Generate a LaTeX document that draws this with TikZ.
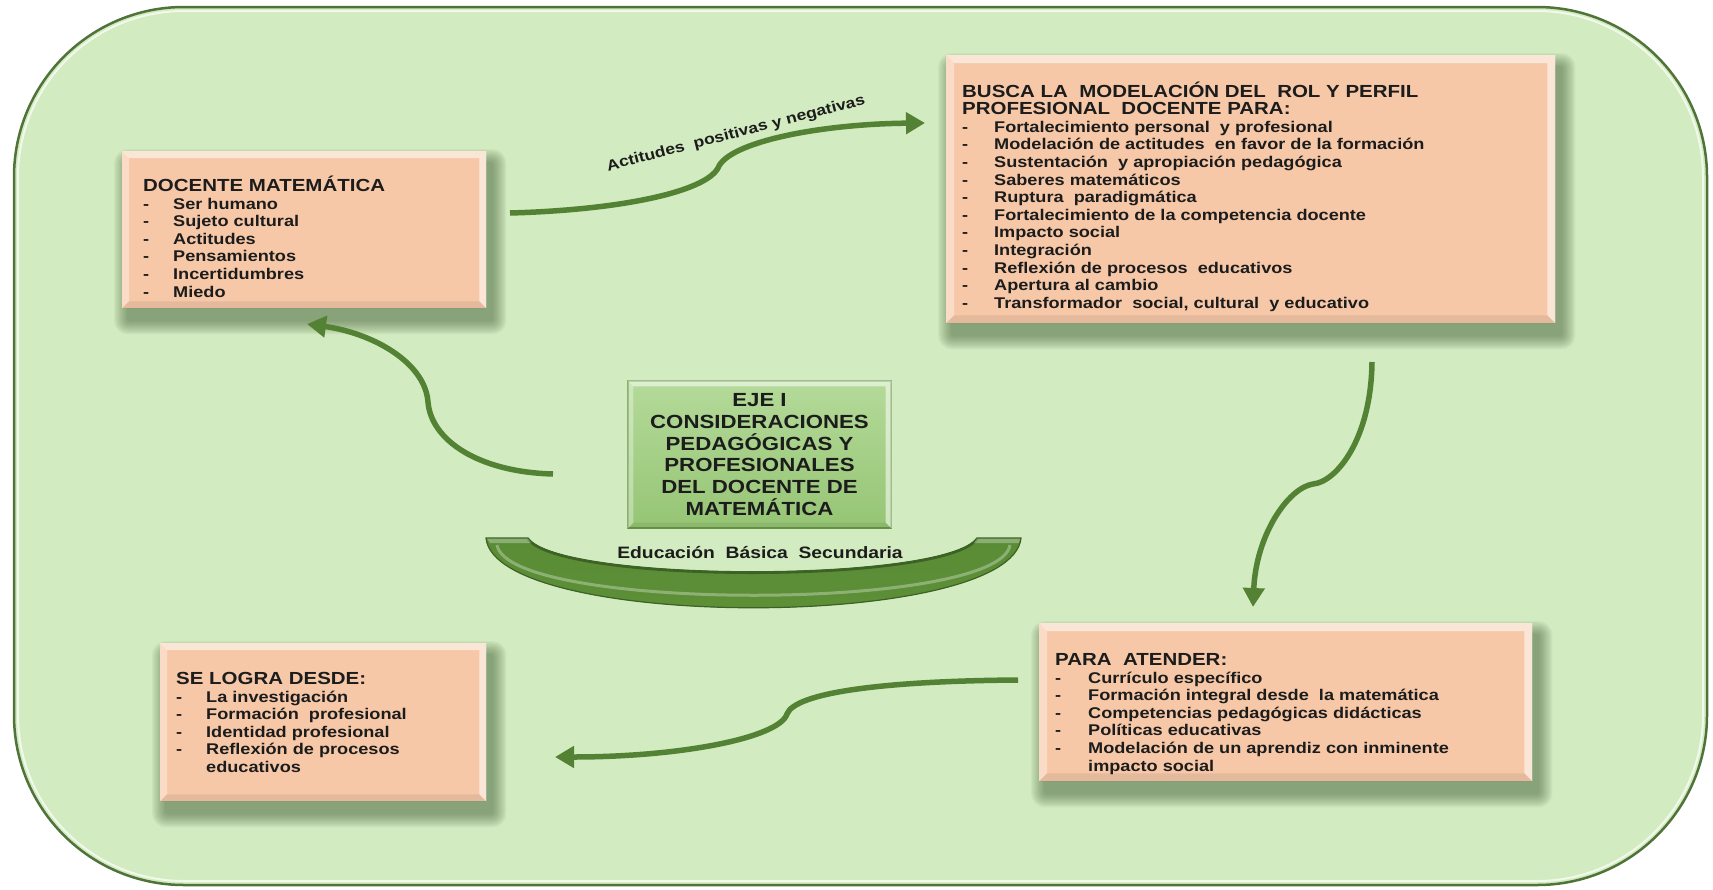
\documentclass[tikz,border=0pt]{standalone}
\usepackage{fontspec}
\setmainfont{Liberation Sans}
\newfontfamily\boxfont[FakeStretch=1.17]{Liberation Sans}
\usetikzlibrary{arrows.meta,calc}

\definecolor{bggreen}{HTML}{D3EBC0}
\definecolor{framegreen}{HTML}{4F7339}
\definecolor{arrowgreen}{HTML}{548235}
\definecolor{peach}{HTML}{F6C8A8}
\definecolor{axistop}{HTML}{B4DA99}
\definecolor{axisbottom}{HTML}{96C575}
\definecolor{axisedge}{HTML}{6A9A48}
\definecolor{inkdark}{HTML}{1C1C1C}
\definecolor{bowldark}{HTML}{3C6226}
\definecolor{bowltop}{HTML}{5A8C36}
\definecolor{bowlmid}{HTML}{7DB04F}
\definecolor{bowlbottom}{HTML}{5E9038}
\definecolor{shadowgreen}{HTML}{3E5832}

\newcommand{\itemfont}{\boxfont\bfseries\fontsize{15.5}{17.6}\selectfont}
\newcommand{\headfont}{\boxfont\bfseries\fontsize{17.5}{17.6}\selectfont}

% soft drop shadow under a panel: #1 node, #2 x offset, #3 y offset (down)
\newcommand{\softshadow}[3]{%
  \foreach \k in {0,...,11}{%
    \fill[shadowgreen, opacity=.05, rounded corners={14-\k}]
      ($(#1.north west)+({#2-14+1.2*\k},{#3-14+1.2*\k})$) rectangle
      ($(#1.south east)+({#2+14-1.2*\k},{#3+14-1.2*\k})$);}%
}
% bevelled edges of a panel: #1 node name, #2 bevel width
\newcommand{\bevelframe}[2]{%
  \fill[white,opacity=.55] (#1.north west) -- (#1.north east) -- ($(#1.north east)+(-#2,#2)$) -- ($(#1.north west)+(#2,#2)$) -- cycle;
  \fill[white,opacity=.35] (#1.north west) -- ($(#1.north west)+(#2,#2)$) -- ($(#1.south west)+(#2,-#2)$) -- (#1.south west) -- cycle;
  \fill[white,opacity=.55] (#1.north east) -- ($(#1.north east)+(-#2,#2)$) -- ($(#1.south east)+(-#2,-#2)$) -- (#1.south east) -- cycle;
  \fill[black,opacity=.07] (#1.south west) -- ($(#1.south west)+(#2,-#2)$) -- ($(#1.south east)+(-#2,-#2)$) -- (#1.south east) -- cycle;
}

\begin{document}
\begin{tikzpicture}[x=1pt,y=-1pt,
  panel/.style={draw=none, inner sep=0pt, anchor=north west},
  axisbox/.style={top color=axistop, bottom color=axisbottom, draw=axisedge,
    line width=1.2pt, inner sep=0pt},
  listtext/.style={anchor=base west, inner sep=0pt, text=inkdark, font=\itemfont},
  flow/.style={line width=5.5pt, draw=arrowgreen, line cap=butt,
    -{Triangle[length=19pt,width=21pt]}},
]
\useasboundingbox (0,0) rectangle (1713,889);
\fill[white] (0,0) rectangle (1713,889);

% outer rounded frame
\draw[framegreen, line width=2.5pt, fill=bggreen, rounded corners=170pt]
  (14,7) rectangle (1707,885);
\draw[white, opacity=.7, line width=2pt, rounded corners=166pt]
  (18,11) rectangle (1703,881);

% panel geometry
\node[panel, minimum width=364pt, minimum height=157pt] (docente) at (122,151) {};
\node[panel, minimum width=609pt, minimum height=268pt] (busca) at (946,55) {};
\node[panel, minimum width=493pt, minimum height=158pt] (atender) at (1039,623) {};
\node[panel, minimum width=326pt, minimum height=158pt] (logra) at (160,643) {};

% shadows, fills and bevels
\foreach \p in {docente,busca,atender,logra}{\softshadow{\p}{6}{12}}
\foreach \p in {docente,busca,atender,logra}{\fill[peach] (\p.north west) rectangle (\p.south east);}
\bevelframe{docente}{7}
\bevelframe{busca}{8}
\bevelframe{atender}{8}
\bevelframe{logra}{7}

% central axis box
\node[axisbox, minimum width=263pt, minimum height=147pt] (eje) at (759.5,454.5) {};
\bevelframe{eje}{6}
\node[align=center, text=inkdark, font=\boxfont\bfseries\fontsize{19}{21.7}\selectfont]
  (ejetext) at (eje.center)
  {EJE I\\CONSIDERACIONES\\PEDAGÓGICAS Y\\PROFESIONALES\\DEL DOCENTE DE\\MATEMÁTICA};

% base bowl under the axis box
\fill[top color=bowltop, middle color=bowlmid, bottom color=bowlbottom]
  (486,538) -- (528,538) .. controls (560,583) and (945,583) .. (977,538)
  -- (1021,538) .. controls (1012,631) and (495,631) .. cycle;
\draw[white, opacity=.3, line width=3pt]
  (497,545) .. controls (508,612) and (1000,612) .. (1010,545);
\draw[bowldark, line width=1.2pt]
  (486,538) -- (528,538) .. controls (560,583) and (945,583) .. (977,538)
  -- (1021,538) .. controls (1012,631) and (495,631) .. cycle;
\draw[bowldark, line width=2.5pt] (528,539) .. controls (560,584) and (945,584) .. (977,539);
\fill[white, opacity=.3] (487,538.5) -- (528,538.5) -- (531,543) -- (490,543) -- cycle;
\fill[white, opacity=.3] (977,538.5) -- (1020,538.5) -- (1019,543) -- (974,543) -- cycle;
\node[text=inkdark, font=\boxfont\bfseries\fontsize{16.5}{18}\selectfont]
  (nivel) at (760,553) {Educación\ \ Básica\ \ Secundaria};

% panel texts
\node[listtext] (docentetext) at (143,191.5) {%
  \begin{tabular}[t]{@{}p{30pt}@{}l@{}}
  \multicolumn{2}{@{}l@{}}{\headfont DOCENTE MATEMÁTICA}\\
  - & Ser humano\\
  - & Sujeto cultural\\
  - & Actitudes\\
  - & Pensamientos\\
  - & Incertidumbres\\
  - & Miedo
  \end{tabular}};

\node[listtext] (buscatext) at (962,97) {%
  \begin{tabular}[t]{@{}p{32pt}@{}l@{}}
  \multicolumn{2}{@{}l@{}}{\headfont BUSCA LA\ \ MODELACIÓN DEL\ \ ROL Y PERFIL}\\
  \multicolumn{2}{@{}l@{}}{\headfont PROFESIONAL\ \ DOCENTE PARA:}\\
  - & Fortalecimiento personal\ \ y profesional\\
  - & Modelación de actitudes\ \ en favor de la formación\\
  - & Sustentación\ \ y apropiación pedagógica\\
  - & Saberes matemáticos\\
  - & Ruptura\ \ paradigmática\\
  - & Fortalecimiento de la competencia docente\\
  - & Impacto social\\
  - & Integración\\
  - & Reflexión de procesos\ \ educativos\\
  - & Apertura al cambio\\
  - & Transformador\ \ social, cultural\ \ y educativo
  \end{tabular}};

\node[listtext] (atendertext) at (1055,665.5) {%
  \begin{tabular}[t]{@{}p{33pt}@{}l@{}}
  \multicolumn{2}{@{}l@{}}{\headfont PARA\ \ ATENDER:}\\
  - & Currículo específico\\
  - & Formación integral desde\ \ la matemática\\
  - & Competencias pedagógicas didácticas\\
  - & Políticas educativas\\
  - & Modelación de un aprendiz con inminente\\
    & impacto social
  \end{tabular}};

\node[listtext] (logratext) at (176,684.5) {%
  \begin{tabular}[t]{@{}p{30pt}@{}l@{}}
  \multicolumn{2}{@{}l@{}}{\headfont SE LOGRA DESDE:}\\
  - & La investigación\\
  - & Formación\ \ profesional\\
  - & Identidad profesional\\
  - & Reflexión de procesos\\
    & educativos
  \end{tabular}};

% connector ends
\coordinate (a1s) at (510,213);
\coordinate (a1m) at (718,168);
\coordinate (a1e) at (925,123);
\coordinate (a2s) at (1372,362);
\coordinate (a2m) at (1313,484);
\coordinate (a2e) at (1253,607);
\coordinate (a3s) at (1018,680);
\coordinate (a3m) at (787,714);
\coordinate (a3e) at (555,757);
\coordinate (a4s) at (553,474);
\coordinate (a4m) at (428,402);
\coordinate (a4e) at (307,324);

% connectors
\draw[flow] (a1s) .. controls (620,210) and (705,192) .. (a1m)
  .. controls (728,142) and (820,124) .. (a1e);
\draw[flow] (a2s) .. controls (1371,440) and (1336,482) .. (a2m)
  .. controls (1288,488) and (1256,535) .. (a2e);
\draw[flow] (a3s) .. controls (880,681) and (795,693) .. (a3m)
  .. controls (779,738) and (680,757) .. (a3e);
\draw[flow] (a4s) .. controls (478,472) and (431,440) .. (a4m)
  .. controls (425,362) and (372,333) .. (a4e);

\node[rotate=14.5, text=inkdark, font=\boxfont\bfseries\fontsize{15}{16}\selectfont]
  (actitudes) at (736,134) {Actitudes\ \ positivas y negativas};
\end{tikzpicture}
\end{document}
